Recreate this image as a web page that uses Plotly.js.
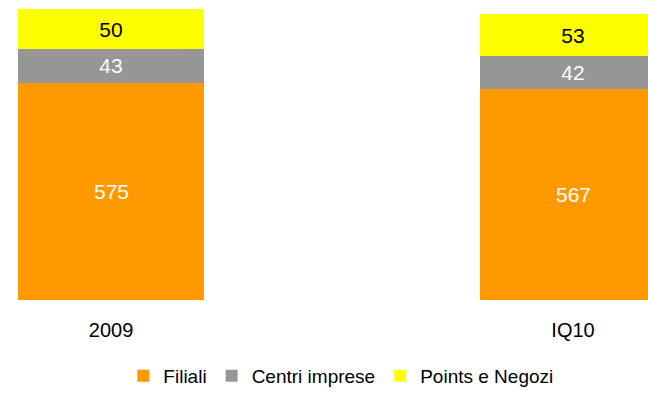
<!DOCTYPE html>
<html>
<head>
<meta charset="utf-8">
<script src="https://cdn.plot.ly/plotly-3.0.1.min.js"></script>
<style>html,body{margin:0;padding:0;background:#fff;}#chart{width:648px;height:409px;}</style>
</head>
<body>
<div id="chart"></div>
<script>
const categories = ["2009", "IQ10"];
const filiali = [575, 567];
const centriImprese = [43, 42];
const pointsNegozi = [50, 53];
const seriesNames = ["Filiali", "Centri imprese", "Points e Negozi"];

const yMin = 300, yMax = 680;
const FONT = '"Liberation Sans", Arial, sans-serif';

const traces = [
  {type: 'bar', name: seriesNames[0], x: categories, y: filiali,
   marker: {color: '#FF9900'}, textposition: 'none'},
  {type: 'bar', name: seriesNames[1], x: categories, y: centriImprese,
   marker: {color: '#969696'}, text: centriImprese.map(String), textposition: 'inside',
   insidetextanchor: 'middle', textfont: {color: '#FFFFFF', size: 21, family: FONT}},
  {type: 'bar', name: seriesNames[2], x: categories, y: pointsNegozi,
   marker: {color: '#FFFF00'}, text: pointsNegozi.map(String), textposition: 'inside',
   insidetextanchor: 'middle', textfont: {color: '#000000', size: 21, family: FONT}}
];

const annotations = categories.map((c, i) => ({
  x: i, y: (yMin + filiali[i]) / 2, xref: 'x', yref: 'y',
  text: String(filiali[i]), showarrow: false,
  font: {color: '#FFFFFF', size: 21, family: FONT}
}));

const layout = {
  width: 648, height: 409,
  margin: {l: 0, r: 0, t: 0, b: 109, pad: 0},
  paper_bgcolor: '#FFFFFF', plot_bgcolor: '#FFFFFF',
  font: {family: FONT, size: 19, color: '#000000'},
  barmode: 'stack', bargap: 0.597,
  xaxis: {type: 'category', range: [-0.2403, 1.1623], showline: false, showgrid: false,
          zeroline: false, ticks: '', ticklabelstandoff: 16,
          tickfont: {size: 20, family: FONT, color: '#000000'}},
  yaxis: {range: [yMin, yMax], visible: false, showgrid: false, zeroline: false},
  showlegend: true,
  legend: {orientation: 'h', x: 0.526, xanchor: 'center', y: -0.253, yanchor: 'middle',
           font: {size: 19, family: FONT, color: '#000000'}, traceorder: 'normal',
           itemclick: false},
  annotations: annotations,
  uniformtext: {mode: false}
};

Plotly.newPlot('chart', traces, layout, {displayModeBar: false, staticPlot: true});
</script>
</body>
</html>
